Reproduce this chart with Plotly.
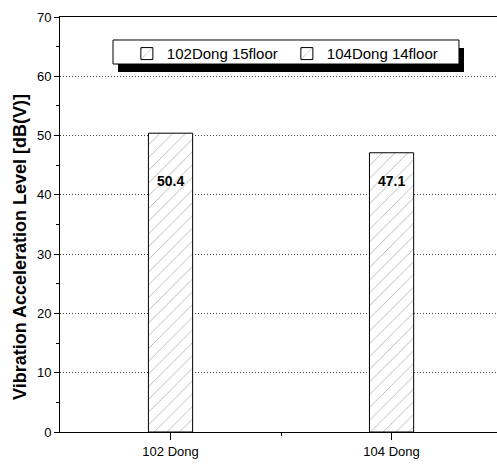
import plotly.graph_objects as go

# Measured vibration acceleration levels per building
categories = ["102 Dong", "104 Dong"]
series_names = ["102Dong 15floor", "104Dong 14floor"]
values = [50.4, 47.1]
label_level = 42.3  # height at which the value labels sit
y_ticks = [0, 10, 20, 30, 40, 50, 60, 70]

FONT = "Liberation Sans, Arial, sans-serif"
positions = list(range(len(categories)))

fig = go.Figure()
for pos, name, val in zip(positions, series_names, values):
    fig.add_trace(go.Bar(
        x=[pos], y=[val], name=name, width=0.2,
        marker=dict(
            color="white",
            line=dict(color="black", width=1),
            pattern=dict(shape="/", fgcolor="#6a6a6a", bgcolor="white",
                         size=9, solidity=0.1),
        ),
    ))
    fig.add_annotation(x=pos, y=label_level, text=f"<b>{val}</b>",
                       showarrow=False,
                       font=dict(family=FONT, size=14, color="black"),
                       xanchor="center", yanchor="middle")

# y-axis title, placed a little below the axis centre
fig.add_annotation(xref="paper", yref="paper", x=-0.09, y=0.445,
                   text="<b>Vibration Acceleration Level [dB(V)]</b>",
                   textangle=-90, showarrow=False,
                   font=dict(family=FONT, size=18, color="black"),
                   xanchor="center", yanchor="middle")

# legend frame with a drop shadow (legend itself is drawn transparent on top)
fig.add_shape(type="rect", xref="paper", yref="paper",
              x0=0.1327, x1=0.9245, y0=0.8675, y1=0.9253,
              fillcolor="black", line=dict(width=0), layer="above")
fig.add_shape(type="rect", xref="paper", yref="paper",
              x0=0.1213, x1=0.9130, y0=0.8867, y1=0.9446,
              fillcolor="white", line=dict(color="black", width=1),
              layer="above")

fig.update_layout(
    width=497, height=465,
    margin=dict(l=60, r=0, t=17, b=33),
    paper_bgcolor="white", plot_bgcolor="white",
    barmode="overlay",
    font=dict(family=FONT, size=13, color="black"),
    showlegend=True,
    legend=dict(
        orientation="h", x=0.153, y=0.951, xanchor="left", yanchor="top",
        bgcolor="rgba(0,0,0,0)", borderwidth=0,
        font=dict(family=FONT, size=15, color="black"),
        itemwidth=30, entrywidth=115,
    ),
    xaxis=dict(
        range=[-0.5, 1.477],
        tickmode="array", tickvals=positions, ticktext=categories,
        ticks="outside", ticklen=7, tickcolor="black",
        minor=dict(tickmode="array", tickvals=[0.5], ticks="outside",
                   ticklen=3, tickcolor="black"),
        showline=True, linecolor="black", linewidth=1, mirror=True,
        showgrid=False, zeroline=False,
        tickfont=dict(family=FONT, size=13),
    ),
    yaxis=dict(
        range=[0, 70],
        tickmode="array", tickvals=y_ticks,
        ticks="outside", ticklen=5, tickcolor="black",
        minor=dict(dtick=5, ticks="outside", ticklen=3, tickcolor="black",
                   showgrid=False),
        showline=True, linecolor="black", linewidth=1,
        showgrid=True, gridcolor="#444444", griddash="1px,2px", gridwidth=1,
        zeroline=False,
        tickfont=dict(family=FONT, size=13),
    ),
)

fig.write_html("out.html")
